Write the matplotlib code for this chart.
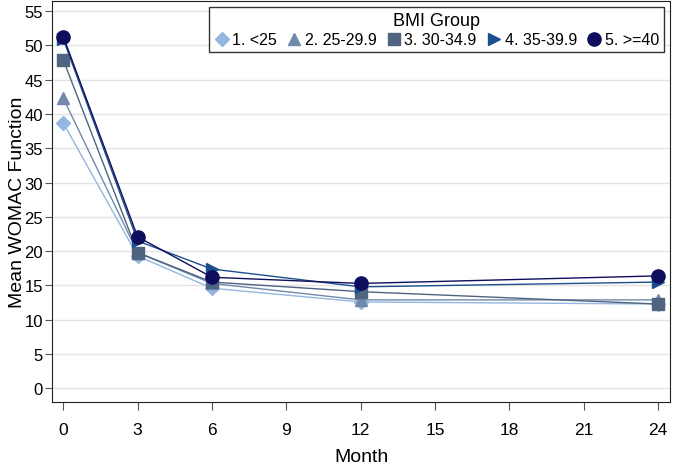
import matplotlib.pyplot as plt
import numpy as np

plt.rcParams['font.family'] = ['Liberation Sans', 'DejaVu Sans']

months = [0, 3, 6, 12, 24]
groups = ['1. <25', '2. 25-29.9', '3. 30-34.9', '4. 35-39.9', '5. >=40']
bmi1 = [38.7, 19.3, 14.6, 12.6, 12.3]
bmi2 = [42.3, 19.8, 15.3, 12.9, 12.9]
bmi3 = [47.9, 19.8, 15.5, 14.1, 12.3]
bmi4 = [50.9, 21.5, 17.4, 14.8, 15.5]
bmi5 = [51.3, 22.1, 16.2, 15.3, 16.4]

series = [bmi1, bmi2, bmi3, bmi4, bmi5]
colors = ['#94b6e0', '#7189ab', '#4e6480', '#1d4f8e', '#0e0e5c']
markers = ['D', '^', 's', '>', 'o']
msizes = [7.5, 8.5, 8.5, 8.5, 9.5]

fig = plt.figure(figsize=(6.77, 4.77), dpi=100)
ax = fig.add_axes([0.077, 0.155, 0.913, 0.841])

for vals, c, m, ms, lab in zip(series, colors, markers, msizes, groups):
    ax.plot(months, vals, color=c, marker=m, markersize=ms, lw=1.0, label=lab)

ax.set_xlim(-0.45, 24.5)
ax.set_ylim(-2, 56.5)
ax.set_xticks(np.arange(0, 25, 3))
ax.set_yticks(np.arange(0, 56, 5))
ax.grid(axis='y', color='#e4e4e4', lw=1)
ax.set_axisbelow(True)
ax.tick_params(labelsize=12, length=5, pad=1.5, color='#555555')
ax.tick_params(axis='x', length=6, pad=8, labelsize=12.5)
ax.set_xlabel('Month', fontsize=14, labelpad=8)
ax.set_ylabel('Mean WOMAC Function', fontsize=14)
ax.yaxis.set_label_coords(-0.043, 0.5)
for s in ax.spines.values():
    s.set_color('#222222')

leg = ax.legend(title='BMI Group', ncol=5, loc='upper right', fontsize=11.5,
                title_fontsize=13, handletextpad=0.15, columnspacing=0.6,
                handlelength=1.0, fancybox=False, edgecolor='#333333',
                borderaxespad=0.4, framealpha=1, borderpad=0.3, labelspacing=0.2)
for line in leg.get_lines():
    line.set_linestyle('')

plt.savefig('out.png', dpi=100)
plt.close('all')
